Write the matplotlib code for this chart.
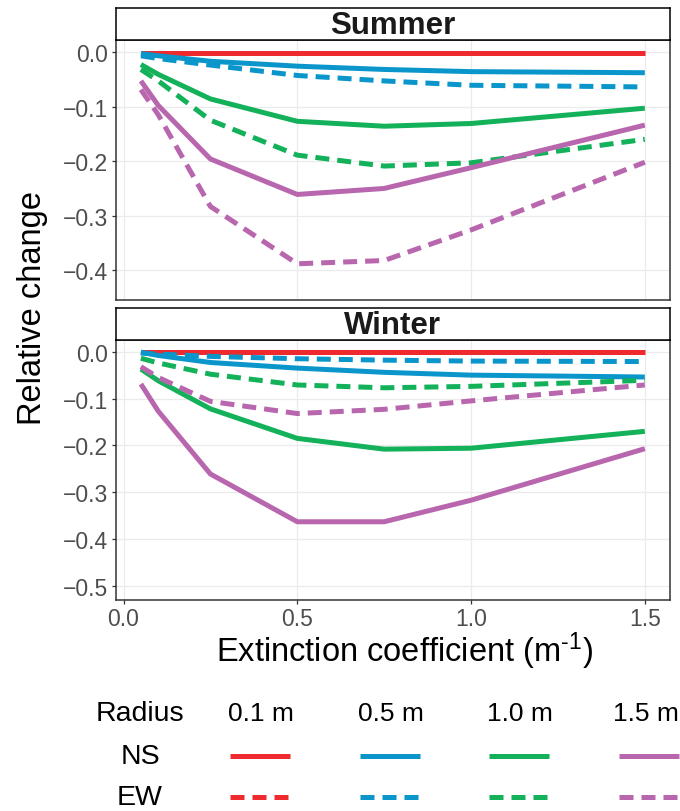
import matplotlib
matplotlib.use("Agg")
import matplotlib.pyplot as plt
from matplotlib.lines import Line2D

plt.rcParams['font.family'] = ['Liberation Sans', 'DejaVu Sans']
plt.rcParams['mathtext.fontset'] = 'custom'
plt.rcParams['mathtext.rm'] = 'Liberation Sans'
plt.rcParams['mathtext.it'] = 'Liberation Sans:italic'
plt.rcParams['mathtext.bf'] = 'Liberation Sans:bold'

# ---------------- data ----------------
extinction = [0.05, 0.1, 0.25, 0.5, 0.75, 1.0, 1.5]
radii = ["0.1 m", "0.5 m", "1.0 m", "1.5 m"]
colors = ["#EE2A2E", "#0A96CB", "#13B159", "#B866AD"]
seasons = ["Summer", "Winter"]

summer_ns_01 = [-0.001, -0.001, -0.001, -0.001, -0.001, -0.001, -0.001]
summer_ew_01 = [-0.001, -0.001, -0.001, -0.001, -0.001, -0.001, -0.001]
summer_ns_05 = [-0.003, -0.007, -0.017, -0.026, -0.032, -0.036, -0.038]
summer_ew_05 = [-0.007, -0.012, -0.024, -0.043, -0.053, -0.061, -0.064]
summer_ns_10 = [-0.023, -0.041, -0.086, -0.127, -0.136, -0.131, -0.103]
summer_ew_10 = [-0.032, -0.053, -0.125, -0.189, -0.209, -0.203, -0.160]
summer_ns_15 = [-0.053, -0.098, -0.196, -0.261, -0.250, -0.212, -0.134]
summer_ew_15 = [-0.069, -0.115, -0.283, -0.388, -0.382, -0.326, -0.202]

winter_ns_01 = [-0.001, -0.001, -0.001, -0.001, -0.001, -0.001, -0.001]
winter_ew_01 = [-0.0005, -0.0005, -0.0005, -0.0005, -0.0005, -0.0005, -0.0005]
winter_ns_05 = [-0.001, -0.008, -0.023, -0.035, -0.044, -0.050, -0.054]
winter_ew_05 = [-0.003, -0.005, -0.010, -0.015, -0.018, -0.020, -0.021]
winter_ns_10 = [-0.037, -0.062, -0.122, -0.185, -0.208, -0.206, -0.170]
winter_ew_10 = [-0.014, -0.024, -0.048, -0.071, -0.077, -0.074, -0.061]
winter_ns_15 = [-0.069, -0.127, -0.261, -0.363, -0.363, -0.317, -0.207]
winter_ew_15 = [-0.032, -0.055, -0.106, -0.132, -0.123, -0.105, -0.071]

summer_ns = [summer_ns_01, summer_ns_05, summer_ns_10, summer_ns_15]
summer_ew = [summer_ew_01, summer_ew_05, summer_ew_10, summer_ew_15]
winter_ns = [winter_ns_01, winter_ns_05, winter_ns_10, winter_ns_15]
winter_ew = [winter_ew_01, winter_ew_05, winter_ew_10, winter_ew_15]

summer_yticks = [0.0, -0.1, -0.2, -0.3, -0.4]
winter_yticks = [0.0, -0.1, -0.2, -0.3, -0.4, -0.5]
xticks = [0.0, 0.5, 1.0, 1.5]

# ---------------- styling ----------------
W, H = 680, 812
fig = plt.figure(figsize=(W / 100, H / 100), dpi=100)

LW = 3.6
DASH = (2.8, 1.6)
GRID = "#EBEBEB"
BORDER = "#333333"
TICKC = "#4D4D4D"

def fx(px):
    return px / W

def fy(py):
    return 1 - py / H

left_px, right_px = 115.7, 670.0
panels = [
    dict(name=seasons[0], ns=summer_ns, ew=summer_ew, yt=summer_yticks,
         strip=(9.3, 41.3), panel=(41.3, 300.7), ylim=(-0.4538, 0.0214)),
    dict(name=seasons[1], ns=winter_ns, ew=winter_ew, yt=winter_yticks,
         strip=(309.0, 341.0), panel=(341.0, 601.0), ylim=(-0.530, 0.025)),
]

axes = []
for i, p in enumerate(panels):
    t, b = p["panel"]
    ax = fig.add_axes([fx(left_px), fy(b), fx(right_px - left_px), (b - t) / H])
    axes.append(ax)
    for c, ns, ew in zip(colors, p["ns"], p["ew"]):
        ax.plot(extinction, ew, color=c, lw=LW, dashes=DASH,
                dash_capstyle="butt", solid_capstyle="butt", zorder=3)
        ax.plot(extinction, ns, color=c, lw=LW, solid_capstyle="butt", zorder=3)
    ax.set_xlim(-0.0225, 1.5725)
    ax.set_ylim(*p["ylim"])
    ax.set_yticks(p["yt"])
    ax.set_yticklabels([f"{v:.1f}".replace("-", "\u2212") for v in p["yt"]])
    ax.set_xticks(xticks)
    ax.grid(True, color=GRID, lw=0.9, zorder=0)
    ax.set_axisbelow(True)
    for s in ax.spines.values():
        s.set_color(BORDER)
        s.set_linewidth(1.1)
    ax.tick_params(axis="both", direction="out", length=3.2, width=0.9,
                   color=BORDER, labelsize=16.5, labelcolor=TICKC, pad=2)
    if i == 0:
        ax.tick_params(axis="x", bottom=False, labelbottom=False)
    else:
        ax.set_xticklabels([f"{v:.1f}" for v in xticks])

    # strip
    st, sb = p["strip"]
    sax = fig.add_axes([fx(left_px), fy(sb), fx(right_px - left_px), (sb - st) / H])
    sax.set_xticks([])
    sax.set_yticks([])
    sax.set_facecolor("white")
    for s in sax.spines.values():
        s.set_color("black")
        s.set_linewidth(1.1)
    sax.text(0.5, 0.47, p["name"], ha="center", va="center", fontsize=22.5,
             fontweight="bold", color="#1A1A1A", transform=sax.transAxes)

# axis titles
fig.text(fx(404), fy(651), r"Extinction coefficient (m$^{\text{-}1}$)",
         ha="center", va="center", fontsize=23.5, color="black")
fig.text(fx(33), fy(308), "Relative change", ha="center", va="center",
         rotation=90, fontsize=23.5, color="black")

# legend
lax = fig.add_axes([0, 0, 1, 1], facecolor="none")
lax.set_xlim(0, W)
lax.set_ylim(H, 0)
lax.axis("off")
row_y = [714, 757, 798]
lab_x = 140
key_x0 = 230
key_step = 129.5
key_len = 60
lax.text(lab_x, row_y[0], "Radius", ha="center", va="center", fontsize=20.5)
lax.text(lab_x, row_y[1], "NS", ha="center", va="center", fontsize=20.5)
lax.text(lab_x, row_y[2], "EW", ha="center", va="center", fontsize=20.5)
for j, (r, c) in enumerate(zip(radii, colors)):
    x0 = key_x0 + j * key_step
    if j == len(radii) - 1:
        lax.text(W - 1.5, row_y[0], r, ha="right", va="center", fontsize=19)
    else:
        lax.text(x0 + key_len / 2 + 1, row_y[0], r, ha="center", va="center",
                 fontsize=19)
    lax.add_line(Line2D([x0, x0 + key_len], [row_y[1], row_y[1]], color=c,
                        lw=LW, solid_capstyle="butt"))
    lax.add_line(Line2D([x0, x0 + key_len], [row_y[2], row_y[2]], color=c,
                        lw=LW, dashes=DASH, dash_capstyle="butt"))

fig.savefig("out.png", dpi=100, facecolor="white")
